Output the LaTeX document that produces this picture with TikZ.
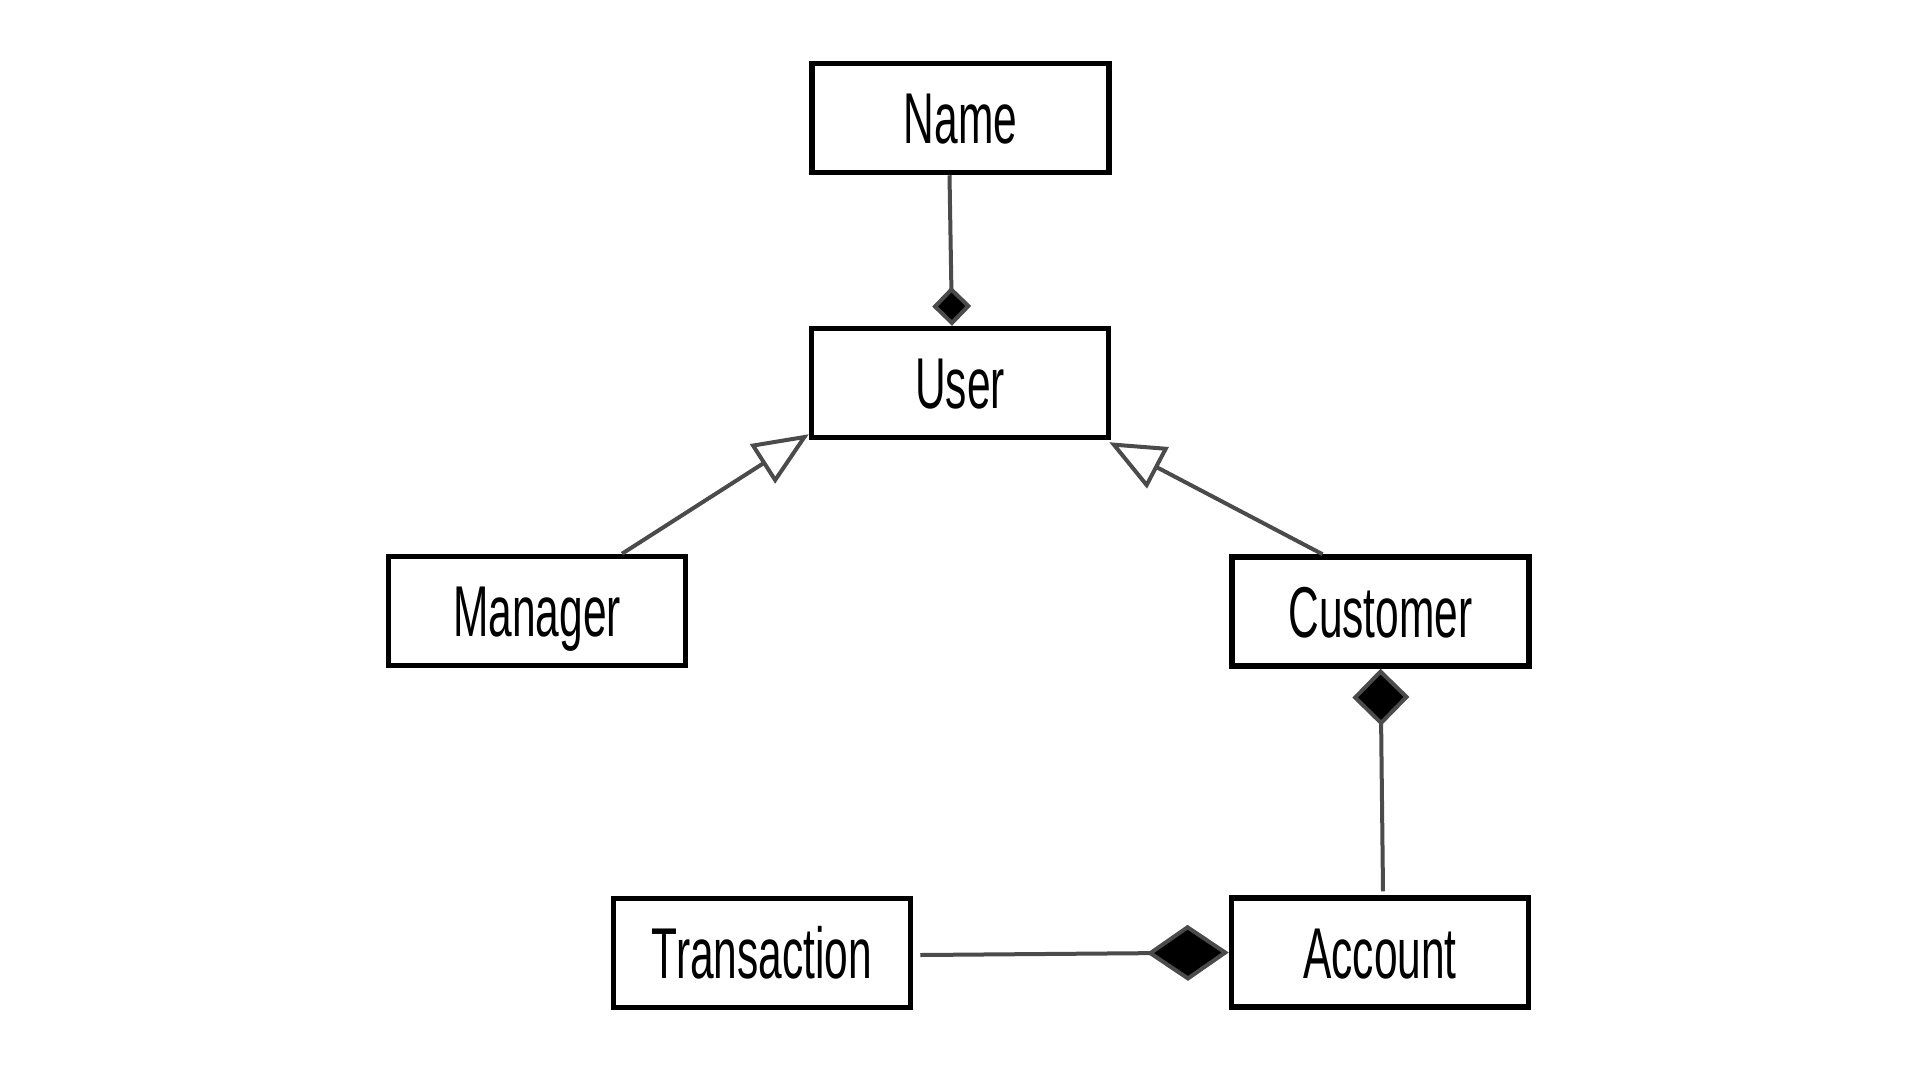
\documentclass[tikz,border=0pt]{standalone}
\usepackage{fontspec}
\setmainfont{Liberation Sans}[FakeStretch=0.59]
\usetikzlibrary{arrows.meta}
\definecolor{linegray}{RGB}{75,75,75}
\begin{document}
\begin{tikzpicture}[x=1pt,y=-1pt,
  cls/.style={draw=black, line width=5.5pt, fill=white, minimum width=297pt,
    minimum height=109pt, inner sep=0pt, font=\fontsize{72}{86}\selectfont,
    text height=51pt, text depth=0pt},
  conn/.style={draw=linegray, line width=4pt},
  gen/.style={conn, -{Triangle[fill=white,length=55pt,width=46pt]}}]
\useasboundingbox[fill=white] (0,0) rectangle (1920,1080);

\node[cls] (Name) at (960.5,118) {Name};
\node[cls] (User) at (960,383) {User};
\node[cls] (Manager) at (537,611) {Manager};
\node[cls] (Customer) at (1380.5,611.5) {Customer};
\node[cls] (Transaction) at (762,953) {Transaction};
\node[cls] (Account) at (1380,952.5) {Account};

\draw[conn, -{Diamond[fill=black,length=39pt,width=39pt]}]
  ([xshift=-11pt]Name.south) -- ([xshift=-8pt]User.north);
\draw[gen] ([xshift=85pt]Manager.north) -- ([yshift=6pt]User.south west);
\draw[gen] ([xshift=-58pt]Customer.north) -- ([shift={(-2pt,-2pt)}]User.south east);
\draw[conn, -{Diamond[fill=black,length=57pt,width=57pt]}]
  ([xshift=3pt,yshift=4pt]Account.north) -- (Customer.south);
\draw[conn, -{Diamond[fill=black,length=82pt,width=56pt]}]
  ([xshift=7pt,yshift=-2pt]Transaction.east) -- (Account.west);
\end{tikzpicture}
\end{document}
